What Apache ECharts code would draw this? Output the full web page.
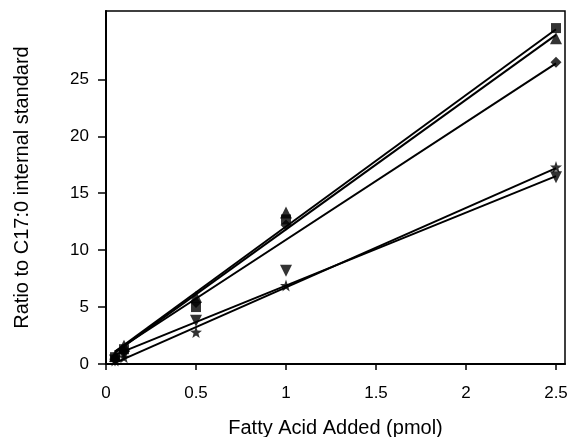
<!DOCTYPE html>
<html>
<head>
<meta charset="utf-8">
<script src="https://cdn.jsdelivr.net/npm/echarts@6/dist/echarts.min.js"></script>
<style>html,body{margin:0;padding:0;background:#fff}#c{width:570px;height:437px}</style>
</head>
<body>
<div id="c"></div>
<script>
const xValues = [0.05, 0.1, 0.5, 1, 2.5];
const squareVals = [0.6, 1.3, 5.0, 12.7, 29.5];
const triUpVals = [0.7, 1.6, 5.9, 13.3, 28.6];
const diamondVals = [0.5, 1.1, 5.4, 12.2, 26.5];
const starVals = [0.3, 0.6, 2.8, 6.9, 17.3];
const triDownVals = [0.3, 0.8, 3.8, 8.2, 16.4];

const fitX = [0.05, 2.5];
const squareFit = [1.1, 29.4];
const triUpFit = [1.0, 28.9];
const diamondFit = [1.1, 26.4];
const starFit = [0.1, 17.2];
const triDownFit = [0.8, 16.5];

const xTicks = [0, 0.5, 1, 1.5, 2, 2.5];
const yTicks = [0, 5, 10, 15, 20, 25];

const FONT = 'Liberation Sans';
const pair = (xs, ys) => xs.map((x, i) => [x, ys[i]]);
const starPath = 'path://M0,-10 L2.35,-3.24 9.51,-3.09 3.8,1.24 5.88,8.09 0,4 -5.88,8.09 -3.8,1.24 -9.51,-3.09 -2.35,-3.24 Z';

function fitLine(ys) {
  return { type: 'line', data: pair(fitX, ys), symbol: 'none', silent: true,
    lineStyle: { color: '#000', width: 2 }, z: 2 };
}
function marks(ys, symbol, size, rotate) {
  return { type: 'scatter', data: pair(xValues, ys), symbol: symbol, symbolSize: size,
    symbolRotate: rotate || 0, itemStyle: { color: '#000' }, z: 3 };
}

const chart = echarts.init(document.getElementById('c'), null, { renderer: 'canvas' });
chart.setOption({
  animation: false,
  backgroundColor: '#fff',
  grid: { left: 106, right: 5, top: 11, bottom: 73, show: true, borderColor: '#000', borderWidth: 1.5,
    containLabel: false, outerBoundsMode: 'none' },
  xAxis: {
    type: 'value', min: 0, max: 2.55,
    name: 'Fatty Acid Added (pmol)', nameLocation: 'middle', nameGap: 54,
    nameTextStyle: { fontFamily: FONT, fontSize: 20, color: '#000' },
    axisLine: { show: true, lineStyle: { color: '#000', width: 2 } },
    axisTick: { show: true, inside: false, length: 6, lineStyle: { color: '#000', width: 1.5 }, customValues: xTicks },
    axisLabel: { fontFamily: FONT, fontSize: 17, color: '#000', margin: 21, customValues: xTicks },
    splitLine: { show: false }
  },
  yAxis: {
    type: 'value', min: 0, max: 31,
    name: 'Ratio to C17:0 internal standard', nameLocation: 'middle', nameGap: 74, nameRotate: 90,
    nameTextStyle: { fontFamily: FONT, fontSize: 20, color: '#000' },
    axisLine: { show: true, lineStyle: { color: '#000', width: 2 } },
    axisTick: { show: true, inside: false, length: 8, lineStyle: { color: '#000', width: 1.5 }, customValues: yTicks },
    axisLabel: { fontFamily: FONT, fontSize: 17, color: '#000', margin: 17, customValues: yTicks },
    splitLine: { show: false }
  },
  series: [
    fitLine(squareFit), fitLine(triUpFit), fitLine(diamondFit), fitLine(starFit), fitLine(triDownFit),
    marks(squareVals, 'rect', 10),
    marks(triUpVals, 'triangle', 12),
    marks(diamondVals, 'diamond', 11),
    marks(starVals, starPath, 12),
    marks(triDownVals, 'triangle', 12, 180)
  ]
});
</script>
</body>
</html>
